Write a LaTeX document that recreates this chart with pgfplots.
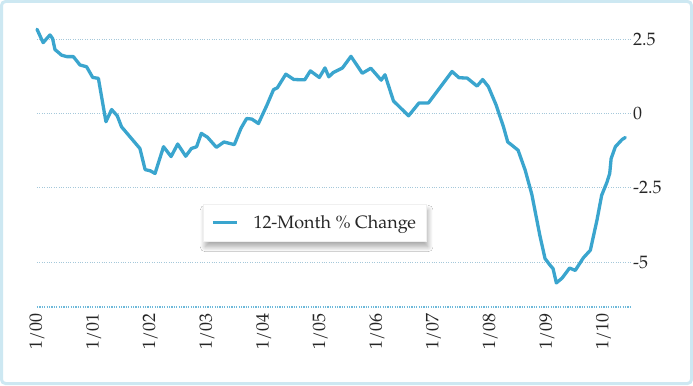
\documentclass[border=0pt]{standalone}
\usepackage{fontspec}
\setmainfont{TeX Gyre Pagella}
\usepackage{pgfplots}
\pgfplotsset{compat=1.18}
\usetikzlibrary{shadows.blur}
\definecolor{lineblue}{RGB}{58,165,206}
\definecolor{gridblue}{RGB}{165,200,218}
\definecolor{axisblue}{RGB}{110,185,218}
\definecolor{frameblue}{RGB}{205,232,242}
\begin{document}
\begin{tikzpicture}[x=1bp,y=1bp]
\useasboundingbox (-37,-78.3) rectangle (656,306.7);
\fill[white] (-37,-78.3) rectangle (656,306.7);
\draw[frameblue, line width=3bp, rounded corners=4bp] (-35.5,-76.8) rectangle (654.5,305.2);
\begin{axis}[
  at={(0,0)}, anchor=south west,
  scale only axis, width=593bp, height=291.7bp,
  xmin=0, xmax=125.6, ymin=-6.5, ymax=3.31,
  axis line style={draw=none},
  major tick length=0pt,
  ytick={-5,-2.5,0,2.5},
  yticklabels={-5,-2.5,0,2.5},
  yticklabel pos=right,
  yticklabel style={anchor=west, inner sep=0pt},
  yticklabel shift=3bp,
  xtick={0,12,...,120},
  xticklabels={1/00,1/01,1/02,1/03,1/04,1/05,1/06,1/07,1/08,1/09,1/10},
  xticklabel style={rotate=90, anchor=east, inner sep=0pt},
  xticklabel shift=7bp,
  tick label style={font=\fontsize{18}{21}\selectfont, text=black!85},
  ymajorgrids, xmajorgrids=false,
  grid style={gridblue, dotted, line width=0.8bp},
  legend style={at={(0.28,0.352)}, anchor=north west, draw=gray!12, fill=white,
    blur shadow={shadow xshift=2bp, shadow yshift=-6bp, shadow blur steps=14, shadow blur radius=5bp, shadow opacity=35},
    inner xsep=8bp, inner ysep=9bp,
    font=\fontsize{18}{21}\selectfont, text=black!85},
  legend image code/.code={%
    \pgfsetstrokecolor{lineblue}\pgfsetlinewidth{3.3bp}\pgfsetbuttcap
    \pgfpathmoveto{\pgfpoint{2bp}{0bp}}\pgfpathlineto{\pgfpoint{26bp}{0bp}}\pgfusepath{stroke}},
  clip=false,
]
\draw[axisblue, line width=2.2bp, dash pattern=on 1.2bp off 1.2bp] (rel axis cs:0,0) -- (rel axis cs:1,0);
\addplot[lineblue, line width=3.3bp, line join=round, line cap=round] coordinates {
(0,2.83) (1.3,2.38) (2.75,2.64) (3.3,2.52) (3.8,2.15) (5.2,1.96) (6.3,1.91) (7.7,1.91)
(9.1,1.63) (10.5,1.57) (11.8,1.21) (13,1.18) (14.6,-0.28) (15.8,0.13) (17,-0.08) (17.9,-0.45)
(21.8,-1.18) (22.9,-1.89) (24,-1.93) (25,-2.02) (26.8,-1.12) (28.4,-1.45) (29.8,-1.03)
(31.5,-1.44) (32.7,-1.18) (33.8,-1.12) (34.8,-0.67) (36.1,-0.80) (38,-1.14) (39.6,-0.96)
(41.8,-1.05) (43.2,-0.50) (44.4,-0.17) (45.5,-0.19) (46.9,-0.34) (48.7,0.28) (50.1,0.80)
(50.9,0.86) (52.7,1.32) (54.4,1.14) (56.7,1.13) (57.9,1.43) (59.8,1.21) (61,1.53) (61.8,1.23)
(62.7,1.37) (64.7,1.53) (66.5,1.92) (68.9,1.35) (70.7,1.52) (72.9,1.12) (73.7,1.30)
(75.5,0.42) (78.7,-0.08) (80.9,0.35) (82.9,0.35) (87.9,1.41) (89.4,1.20) (91.1,1.19)
(93.2,0.92) (94.4,1.14) (95.6,0.90) (97.2,0.30) (98.8,-0.45) (99.7,-0.96) (100.6,-1.07)
(101.9,-1.24) (103.4,-1.91) (104.8,-2.72) (106.5,-4.10) (107.6,-4.88) (108.7,-5.11)
(109.3,-5.22) (110,-5.70) (111.2,-5.54) (112.8,-5.20) (114,-5.28) (115.7,-4.86)
(117.2,-4.60) (118.6,-3.59) (119.6,-2.75) (120.7,-2.32) (121.3,-2.02) (121.6,-1.52)
(122.5,-1.12) (123.9,-0.88) (124.6,-0.81)
};
\addlegendentry{\hspace{13bp}12-Month \% Change}
\end{axis}
\end{tikzpicture}
\end{document}
